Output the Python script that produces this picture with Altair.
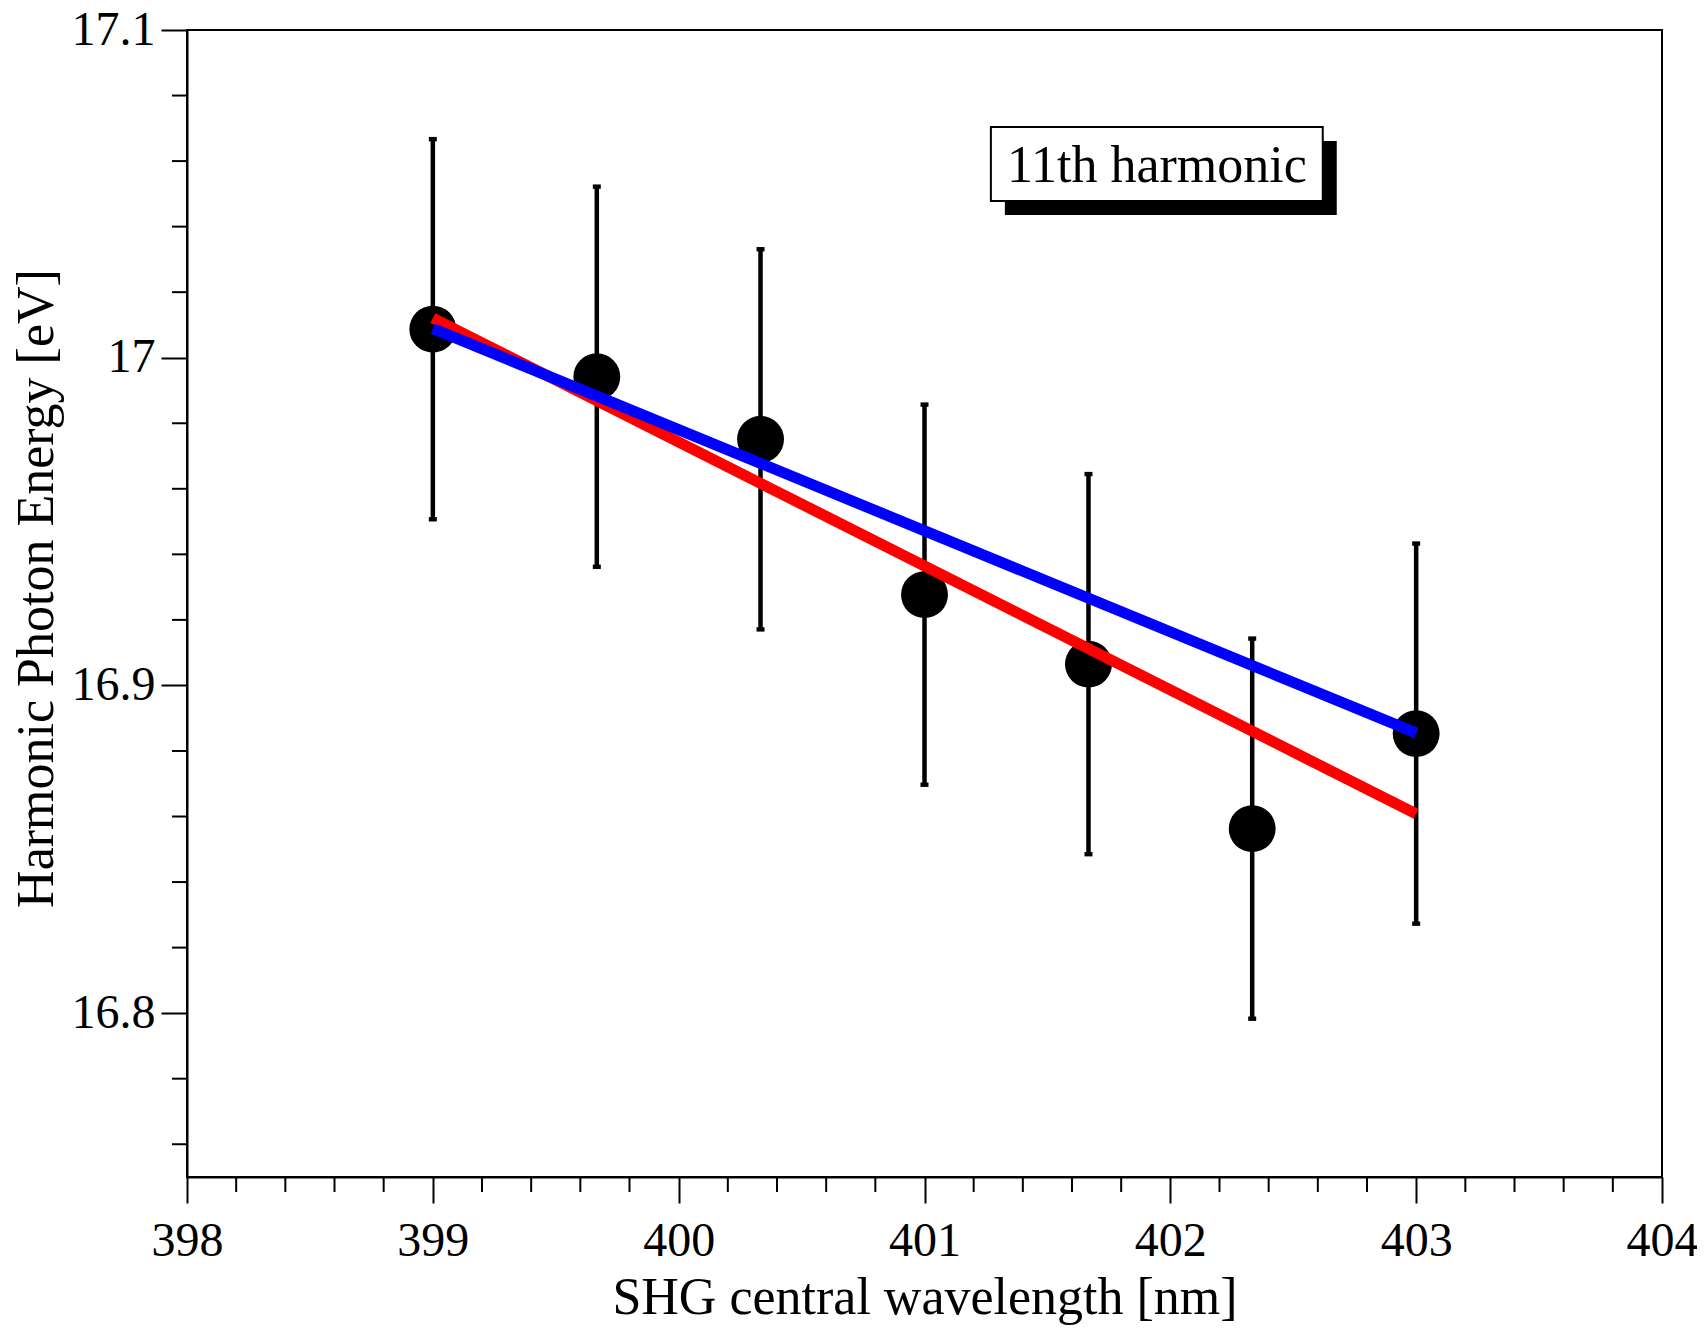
import altair as alt
import pandas as pd

# ---- data ----
WAVELENGTH = [399.0, 399.667, 400.333, 401.0, 401.667, 402.333, 403.0]
ENERGY = [17.0087, 16.9942, 16.9751, 16.9277, 16.9065, 16.8563, 16.8853]
ENERGY_ERR = [0.058, 0.058, 0.058, 0.058, 0.058, 0.058, 0.058]

RED_X = [399.0, 403.0]
RED_Y = [17.0121, 16.8608]
BLUE_X = [399.0, 403.0]
BLUE_Y = [17.0089, 16.8855]

X_TICKS = [398, 399, 400, 401, 402, 403, 404]
Y_TICKS = [16.8, 16.9, 17.0, 17.1]
X_MINOR = [398 + 0.2 * i for i in range(31) if i % 5 != 0]
Y_MINOR = [16.76, 16.78, 16.82, 16.84, 16.86, 16.88, 16.92, 16.94, 16.96,
           16.98, 17.02, 17.04, 17.06, 17.08]

LABEL_TEXT = ["11th harmonic"]

# ---- layout ----
W, H = 1475, 1147
FONT = "Liberation Serif"
SHADOW_DX = 14 / (W / 6.0)
SHADOW_DY = 14 / (H / 0.35)
BOX_X, BOX_X2 = 401.27, 402.62
BOX_Y, BOX_Y2 = 17.0478, 17.0704
TEXT_X, TEXT_Y = 401.945, 17.0536

xscale = alt.Scale(domain=[398, 404], nice=False, zero=False)
yscale = alt.Scale(domain=[16.75, 17.1], nice=False, zero=False)

xaxis = alt.Axis(values=X_TICKS, format="d", title="SHG central wavelength [nm]",
                 labelPadding=14, labelFlush=False, labelOverlap=False,
                 titleY=136, titleBaseline="alphabetic")
yaxis = alt.Axis(values=Y_TICKS, format="~g", title="Harmonic Photon Energy [eV]",
                 labelPadding=6, labelFlush=False, labelOverlap=False,
                 titleX=-135, titleY=558, titleBaseline="alphabetic",
                 titleAngle=270, titleAlign="center")


def X(field):
    return alt.X(field, type="quantitative", scale=xscale, axis=xaxis)


def Y(field):
    return alt.Y(field, type="quantitative", scale=yscale, axis=yaxis)


pts = pd.DataFrame({
    "x": WAVELENGTH,
    "y": ENERGY,
    "lo": [e - d for e, d in zip(ENERGY, ENERGY_ERR)],
    "hi": [e + d for e, d in zip(ENERGY, ENERGY_ERR)],
})
red = pd.DataFrame({"x": RED_X, "y": RED_Y})
blue = pd.DataFrame({"x": BLUE_X, "y": BLUE_Y})

bars = alt.Chart(pts).mark_rule(color="black", strokeWidth=4.5).encode(
    x=X("x"), y=Y("lo"), y2="hi:Q")

cap_shape = "M-1,-0.55L1,-0.55L1,0.55L-1,0.55Z"
caps_lo = alt.Chart(pts).mark_point(shape=cap_shape, filled=True, color="black",
                                    size=64, opacity=1).encode(x=X("x"), y=Y("lo"))
caps_hi = alt.Chart(pts).mark_point(shape=cap_shape, filled=True, color="black",
                                    size=64, opacity=1).encode(x=X("x"), y=Y("hi"))

dots = alt.Chart(pts).mark_circle(color="black", size=2200, opacity=1).encode(
    x=X("x"), y=Y("y"))

red_line = alt.Chart(red).mark_line(color="#ff0000", strokeWidth=11,
                                    strokeCap="butt").encode(x=X("x"), y=Y("y"))
blue_line = alt.Chart(blue).mark_line(color="#0000ff", strokeWidth=11,
                                      strokeCap="butt").encode(x=X("x"), y=Y("y"))

xminor = alt.Chart(pd.DataFrame({"x": X_MINOR})).mark_rule(
    color="black", strokeWidth=2).encode(
    x=X("x"), y=alt.value(H), y2=alt.value(H + 15))
yminor = alt.Chart(pd.DataFrame({"y": Y_MINOR})).mark_rule(
    color="black", strokeWidth=2).encode(
    y=Y("y"), x=alt.value(-15), x2=alt.value(0))

box_df = pd.DataFrame({"x": [BOX_X], "x2": [BOX_X2], "y": [BOX_Y], "y2": [BOX_Y2]})
shadow_df = pd.DataFrame({"x": [BOX_X + SHADOW_DX], "x2": [BOX_X2 + SHADOW_DX],
                          "y": [BOX_Y - SHADOW_DY], "y2": [BOX_Y2 - SHADOW_DY]})
shadow = alt.Chart(shadow_df).mark_rect(color="black").encode(
    x=X("x"), x2="x2:Q", y=Y("y"), y2="y2:Q")
box = alt.Chart(box_df).mark_rect(fill="white", stroke="black", strokeWidth=2).encode(
    x=X("x"), x2="x2:Q", y=Y("y"), y2="y2:Q")
label = alt.Chart(pd.DataFrame({"x": [TEXT_X], "y": [TEXT_Y], "t": LABEL_TEXT})).mark_text(
    font=FONT, fontSize=52, color="black", align="center", baseline="alphabetic").encode(
    x=X("x"), y=Y("y"), text="t:N")

chart = alt.layer(
    xminor, yminor, bars, caps_lo, caps_hi, dots, red_line, blue_line,
    shadow, box, label
).properties(
    width=W, height=H,
    autosize=alt.AutoSizeParams(type="none"),
    padding={"left": 179, "top": 22, "right": 35, "bottom": 148},
    background="white",
).configure_view(
    stroke="black", strokeWidth=2
).configure_axis(
    domainColor="black", domainWidth=2, tickColor="black", tickWidth=2,
    tickSize=26, grid=False,
    labelFont=FONT, labelFontSize=48, labelColor="black",
    titleFont=FONT, titleFontSize=52, titleFontWeight="normal", titleColor="black",
)

chart.save("out.html", embed_options={"renderer": "svg", "actions": False})
